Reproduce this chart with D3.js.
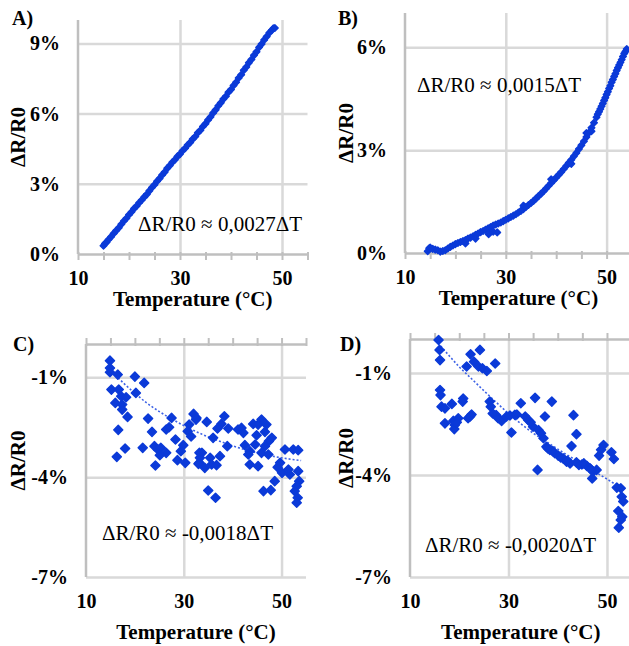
<!DOCTYPE html>
<html><head><meta charset="utf-8">
<script src="https://cdn.jsdelivr.net/npm/d3@7"></script>
<style>
html,body{margin:0;padding:0;background:#fff;}
svg{display:block;font-family:"Liberation Serif","Times New Roman",serif;}
</style></head><body>
<svg id="chart" width="629" height="646"></svg>
<script>
// ---------- DATA (temperature °C, ΔR/R0 in %) ----------
const panelTitles = ["A)", "B)", "C)", "D)"];
const equations = ["ΔR/R0 ≈ 0,0027ΔT", "ΔR/R0 ≈ 0,0015ΔT", "ΔR/R0 ≈ -0,0018ΔT", "ΔR/R0 ≈ -0,0020ΔT"];
const xTitle = "Temperature (°C)";
const yTitle = "ΔR/R0";
const xLabelTicks = [10, 30, 50];
const xMinorTicks = [10, 15, 20, 25, 30, 35, 40, 45, 50, 55];
const yTicksA = [0, 3, 6, 9];
const yTicksB = [0, 3, 6];
const yTicksCD = [-7, -4, -1];

const pointsA = [[15.0,0.35],[15.3,0.45],[15.6,0.50],[16.0,0.62],[16.5,0.74],[17.0,0.88],[17.5,1.00],[18.0,1.12],[18.5,1.27],[19.0,1.41],[19.5,1.53],[20.0,1.68],[20.5,1.80],[21.0,1.94],[21.5,2.05],[22.0,2.19],[22.5,2.31],[23.0,2.44],[23.5,2.55],[24.0,2.70],[24.5,2.84],[25.0,2.96],[25.5,3.11],[26.0,3.23],[26.5,3.38],[27.0,3.50],[27.5,3.66],[28.0,3.78],[28.5,3.92],[29.0,4.03],[29.5,4.17],[30.0,4.27],[30.5,4.41],[31.0,4.52],[31.5,4.66],[32.0,4.77],[32.5,4.91],[33.0,5.02],[33.5,5.18],[34.0,5.29],[34.5,5.45],[35.0,5.57],[35.5,5.73],[36.0,5.86],[36.5,6.03],[37.0,6.16],[37.5,6.33],[38.0,6.46],[38.5,6.62],[39.0,6.74],[39.5,6.91],[40.0,7.03],[40.5,7.20],[41.0,7.34],[41.5,7.52],[42.0,7.66],[42.5,7.85],[43.0,7.99],[43.5,8.17],[44.0,8.31],[44.5,8.49],[45.0,8.64],[45.5,8.83],[46.0,8.97],[46.5,9.15],[47.0,9.29],[47.5,9.45],[48.0,9.56],[48.3,9.64],[48.6,9.66]];

const pointsB = [[14.5,0.05],[14.8,0.14],[15.0,0.16],[15.5,0.12],[16.0,0.10],[16.5,0.08],[17.0,0.04],[17.5,0.06],[18.0,0.08],[18.5,0.13],[19.0,0.18],[19.5,0.22],[20.0,0.26],[20.5,0.29],[21.0,0.32],[21.5,0.35],[22.0,0.38],[22.0,0.28],[22.5,0.42],[23.0,0.45],[23.5,0.49],[24.0,0.53],[24.0,0.42],[24.5,0.57],[25.0,0.61],[25.5,0.64],[26.0,0.68],[26.5,0.72],[26.6,0.55],[27.0,0.76],[27.5,0.80],[27.5,0.62],[28.0,0.83],[28.3,0.60],[28.5,0.86],[29.0,0.89],[29.5,0.93],[30.0,0.97],[30.5,1.01],[31.0,1.05],[31.5,1.09],[32.0,1.13],[32.5,1.18],[33.0,1.23],[33.5,1.28],[33.5,1.38],[34.0,1.34],[34.5,1.40],[35.0,1.46],[35.5,1.52],[36.0,1.59],[36.5,1.66],[37.0,1.73],[37.5,1.80],[38.0,1.88],[38.5,1.96],[39.0,2.04],[39.0,2.15],[39.5,2.12],[40.0,2.20],[40.5,2.28],[41.0,2.36],[41.5,2.45],[42.0,2.54],[42.5,2.63],[43.0,2.72],[43.0,2.60],[43.5,2.82],[44.0,2.92],[44.5,3.03],[45.0,3.14],[45.5,3.26],[46.0,3.38],[46.0,3.50],[46.5,3.51],[47.0,3.65],[47.0,3.55],[47.5,3.80],[48.0,3.96],[48.25,4.05],[48.5,4.12],[48.75,4.20],[49.0,4.28],[49.25,4.36],[49.5,4.45],[49.75,4.53],[50.0,4.62],[50.25,4.70],[50.5,4.80],[50.75,4.88],[51.0,4.98],[51.25,5.06],[51.5,5.15],[51.75,5.23],[52.0,5.32],[52.25,5.40],[52.5,5.48],[52.75,5.56],[53.0,5.64],[53.25,5.73],[53.5,5.82],[53.75,5.88],[54.0,5.95]];

const pointsC = [[14.9,-0.50],[14.9,-0.72],[14.9,-0.85],[16.5,-0.92],[20.0,-0.98],[21.9,-1.17],[15.2,-1.37],[16.7,-1.37],[20.2,-1.47],[17.2,-1.57],[18.2,-1.60],[16.0,-1.77],[17.4,-1.82],[17.4,-1.97],[18.5,-2.19],[22.7,-2.24],[27.5,-2.22],[16.6,-2.58],[23.5,-2.64],[26.4,-2.57],[27.0,-2.50],[28.3,-2.87],[32.0,-2.10],[32.5,-2.27],[31.1,-2.42],[30.8,-2.62],[31.5,-2.78],[18.0,-3.14],[21.6,-3.12],[24.0,-3.07],[24.7,-3.17],[25.3,-3.12],[26.4,-3.27],[25.1,-3.34],[29.9,-3.04],[29.4,-3.22],[16.3,-3.39],[24.2,-3.65],[28.7,-3.49],[30.3,-3.57],[33.2,-3.27],[33.2,-3.57],
[32.6,-2.22],[34.7,-2.34],[38.3,-2.17],[37.7,-2.40],[36.9,-2.54],[39.1,-2.54],[41.1,-2.57],[42.2,-2.67],[41.8,-2.52],[44.2,-2.40],[45.9,-2.27],[45.2,-2.42],[46.9,-2.42],[44.9,-2.74],[46.6,-2.64],[48.0,-2.82],[47.4,-2.92],[36.0,-2.82],[38.9,-3.07],[42.5,-3.04],[44.6,-3.02],[46.6,-3.07],[43.5,-3.22],[45.9,-3.27],[47.3,-3.32],[33.7,-3.27],[33.3,-3.42],[35.4,-3.42],[37.4,-3.37],[33.0,-3.60],[34.3,-3.72],[35.7,-3.62],[36.7,-3.64],[43.5,-3.62],[45.2,-3.67],[43.2,-3.32],[50.7,-3.17],[52.4,-3.17],[53.4,-3.19],[49.7,-3.57],[49.2,-3.70],[50.1,-3.87],[51.7,-3.92],[51.4,-3.77],[53.4,-3.82],[48.6,-4.12],[46.3,-4.42],[47.8,-4.39],[35.0,-4.40],[36.5,-4.62],[53.6,-4.12],[53.1,-4.27],[52.7,-4.42],[53.3,-4.62],[53.1,-4.77]];

const pointsD = [[15.8,-0.03],[16.0,-0.32],[16.1,-0.62],[24.2,-0.32],[22.3,-0.45],[23.0,-0.67],[23.9,-0.81],[24.7,-0.86],[25.6,-0.94],[27.3,-0.72],[21.5,-0.81],[16.1,-1.50],[16.2,-1.65],[16.4,-1.99],[17.1,-2.04],[18.5,-1.91],[20.8,-1.75],[20.7,-1.84],[17.1,-2.48],[18.8,-2.41],[19.8,-2.33],[19.1,-2.53],[19.0,-2.65],[19.5,-2.45],[22.2,-2.28],[22.5,-2.22],[21.8,-2.33],[26.2,-1.84],[26.4,-1.99],[26.8,-2.19],[27.5,-2.24],[27.9,-2.33],[28.6,-2.41],[29.6,-2.28],[30.3,-2.25],[31.3,-2.23],[30.6,-2.75],
[32.5,-1.89],[35.4,-1.73],[38.8,-1.84],[31.7,-2.22],[33.4,-2.28],[34.0,-2.38],[37.4,-2.28],[43.2,-2.24],[35.0,-2.58],[36.1,-2.68],[36.6,-2.77],[37.1,-2.92],[43.8,-2.80],[42.8,-3.15],[37.7,-3.17],[38.4,-3.26],[39.4,-3.36],[40.1,-3.43],[41.1,-3.51],[41.8,-3.61],[42.5,-3.66],[43.8,-3.63],[44.9,-3.69],[45.9,-3.73],[46.5,-3.80],[47.2,-3.90],[47.9,-3.85],[47.0,-4.10],[35.9,-3.85],[49.3,-3.12],[48.8,-3.26],[48.4,-3.43],[50.9,-3.33],[51.4,-3.53],[52.0,-4.37],[52.8,-4.39],[53.0,-4.64],[53.3,-4.78],[52.3,-5.06],[53.1,-5.23],[52.8,-5.32],[52.4,-5.55],[39.0,-3.30],[40.6,-3.48],[42.0,-3.58],[44.3,-3.70],[45.3,-3.66],[46.8,-3.84],[38.0,-3.22],[34.5,-2.45]];

const trendCx = [16, 18, 20, 22.5, 25, 27.5, 30, 32.5, 35, 37.5, 40, 45, 50, 54];
const trendCy = [-0.93, -1.22, -1.48, -1.78, -2.03, -2.25, -2.45, -2.63, -2.79, -2.93, -3.06, -3.27, -3.42, -3.50];
const trendDx = [15.7, 18, 20, 22.5, 25, 27.5, 30, 32.5, 35, 37.5, 40, 42.5, 45, 47.5, 50, 53.6];
const trendDy = [-0.12, -0.50, -0.82, -1.17, -1.52, -1.86, -2.19, -2.49, -2.77, -3.00, -3.24, -3.46, -3.68, -3.90, -4.12, -4.45];

// ---------- LAYOUT ----------
const BLUE = "#0b3ad8";
const GRID = "#d9d9d9";
const AXIS = "#bfbfbf";
const svg = d3.select("#chart");

const panels = [
  { title: panelTitles[0], eq: equations[0], pts: pointsA, yTicks: yTicksA, yDom: [0, 10],
    xr: [78, 307.5], yr: [254, 20], axisVal: 0, bottomVal: 0, mark: 22,
    titlePos: [12, 25], eqPos: [138, 231], yTitleX: 25, xTitleY: 306 },
  { title: panelTitles[1], eq: equations[1], pts: pointsB, yTicks: yTicksB, yDom: [0, 7],
    xr: [405, 631.8], yr: [253, 13], axisVal: 0, bottomVal: 0, mark: 22,
    titlePos: [338, 25], eqPos: [417, 92], yTitleX: 353, xTitleY: 305 },
  { title: panelTitles[2], eq: equations[2], pts: pointsC, yTicks: yTicksCD, yDom: [-7, 0],
    xr: [86, 306], yr: [577, 344], axisVal: 0, bottomVal: -7, mark: 42,
    trend: [trendCx, trendCy],
    titlePos: [13, 351], eqPos: [102, 540], yTitleX: 25, xTitleY: 639 },
  { title: panelTitles[3], eq: equations[3], pts: pointsD, yTicks: yTicksCD, yDom: [-7, 0],
    xr: [410, 631.6], yr: [577, 339], axisVal: 0, bottomVal: -7, mark: 42,
    trend: [trendDx, trendDy],
    titlePos: [340, 351], eqPos: [425, 552], yTitleX: 353, xTitleY: 639 }
];

panels.forEach(p => {
  const x = d3.scaleLinear().domain([10, 55]).range(p.xr);
  const y = d3.scaleLinear().domain(p.yDom).range(p.yr);
  const g = svg.append("g");
  const yTop = d3.min(p.yr), yBot = d3.max(p.yr);

  // horizontal gridlines (skip the value where the category axis lies)
  const gridVals = p.yTicks.filter(v => v !== p.axisVal);
  g.append("g").attr("transform", `translate(${x(10)},0)`)
    .call(d3.axisLeft(y).tickValues(gridVals).tickSize(-(x(55) - x(10))).tickFormat(""))
    .call(s => { s.select(".domain").remove(); s.selectAll("line").attr("stroke", GRID).attr("stroke-width", 2.5); });

  // vertical gridlines at labelled x ticks
  g.append("g").attr("transform", `translate(0,${yBot})`)
    .call(d3.axisBottom(x).tickValues(xLabelTicks.filter(v => v !== 10)).tickSize(-(yBot - yTop)).tickFormat(""))
    .call(s => { s.select(".domain").remove(); s.selectAll("line").attr("stroke", GRID).attr("stroke-width", 2.5); });

  // value axis line
  g.append("line").attr("x1", x(10)).attr("x2", x(10)).attr("y1", yTop).attr("y2", yBot)
    .attr("stroke", AXIS).attr("stroke-width", 2.5);

  // category axis line with minor ticks
  const ay = y(p.axisVal);
  const ax = g.append("g").attr("transform", `translate(0,${ay})`)
    .call(d3.axisBottom(x).tickValues(xMinorTicks).tickSizeOuter(0).tickFormat(""));
  ax.select(".domain").attr("stroke", AXIS).attr("stroke-width", 2.5);
  const down = p.axisVal === p.bottomVal;
  ax.selectAll(".tick line").attr("stroke", AXIS).attr("stroke-width", 2)
    .attr("y1", down ? -2 : 2).attr("y2", down ? 6 : -6);

  // y tick labels
  g.append("g").attr("transform", `translate(${x(10)},0)`)
    .call(d3.axisLeft(y).tickValues(p.yTicks).tickSize(0).tickPadding(18).tickFormat(d => d + "%"))
    .call(s => { s.select(".domain").remove();
      s.selectAll("text").attr("font-family", "Liberation Serif").attr("font-size", 20)
        .attr("font-weight", "bold").attr("fill", "#000"); });

  // x tick labels (at bottom of plot)
  g.append("g").attr("transform", `translate(0,${yBot})`)
    .call(d3.axisBottom(x).tickValues(xLabelTicks).tickSize(0).tickPadding(17).tickFormat(d => d))
    .call(s => { s.select(".domain").remove();
      s.selectAll("text").attr("font-family", "Liberation Serif").attr("font-size", 20)
        .attr("font-weight", "bold").attr("fill", "#000"); });

  // trendline
  if (p.trend) {
    const tp = d3.zip(p.trend[0], p.trend[1]);
    g.append("path").datum(tp)
      .attr("d", d3.line().x(d => x(d[0])).y(d => y(d[1])).curve(d3.curveMonotoneX))
      .attr("fill", "none").attr("stroke", "#3d62e6").attr("stroke-width", 1.6)
      .attr("stroke-dasharray", "2,2");
  }

  // points
  g.append("g").selectAll("path").data(p.pts).join("path")
    .attr("d", d3.symbol(d3.symbolSquare, p.mark))
    .attr("transform", d => `translate(${x(d[0])},${y(d[1])}) rotate(45)`)
    .attr("fill", BLUE).attr("stroke", BLUE).attr("stroke-width", 1.4).attr("stroke-linejoin", "round");

  // equation
  g.append("text").attr("x", p.eqPos[0]).attr("y", p.eqPos[1])
    .attr("font-size", 21).attr("fill", "#000").text(p.eq);

  // panel title
  g.append("text").attr("x", p.titlePos[0]).attr("y", p.titlePos[1])
    .attr("font-size", 20).attr("font-weight", "bold").attr("fill", "#000").text(p.title);

  // axis titles
  g.append("text").attr("transform", `translate(${p.yTitleX},${(yTop + yBot) / 2}) rotate(-90)`)
    .attr("text-anchor", "middle").attr("font-size", 21).attr("font-weight", "bold")
    .attr("fill", "#000").text(yTitle);
  g.append("text").attr("x", (x(10) + x(55)) / 2).attr("y", p.xTitleY)
    .attr("text-anchor", "middle").attr("font-size", 21).attr("font-weight", "bold")
    .attr("fill", "#000").text(xTitle);
});
</script>
</body></html>
